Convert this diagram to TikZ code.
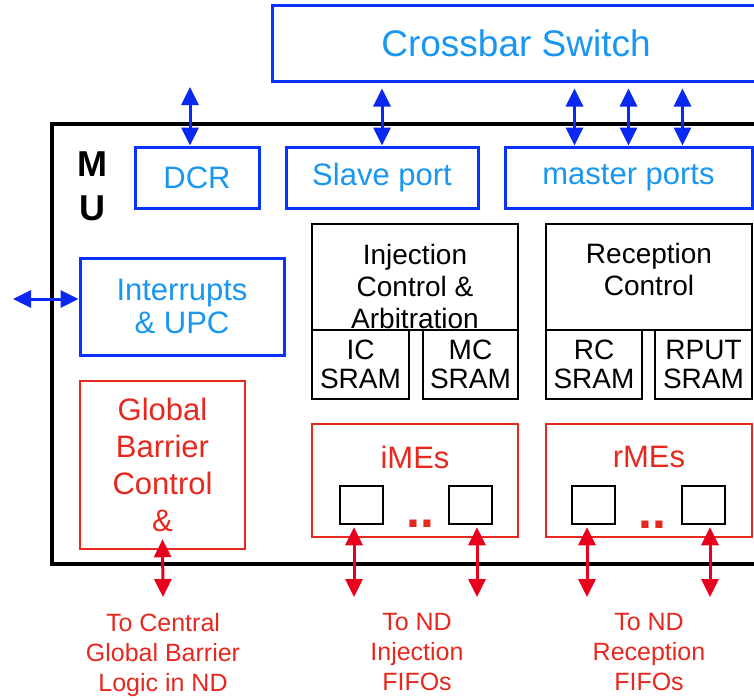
\documentclass[tikz,border=0pt]{standalone}
\usepackage{fontspec}
\setmainfont{Liberation Sans}
\usetikzlibrary{arrows.meta,calc}

\tikzset{
  bluebox/.style={draw=lineblue, line width=3pt, text=textblue, inner sep=0pt, align=center, font=\fontsize{31}{33}\selectfont},
  blackbox/.style={draw=black, line width=2.5pt, inner sep=0pt, align=center, font=\fontsize{28}{29}\selectfont},
  blacktext/.style={inner sep=0pt, align=center, font=\fontsize{28}{32}\selectfont},
  redbox/.style={draw=redline, line width=2.5pt, text=redline, inner sep=0pt, align=center, font=\fontsize{31}{37}\selectfont},
  redtext/.style={text=redline, inner sep=0pt, align=center, font=\fontsize{31}{37}\selectfont},
  mebox/.style={draw=black, line width=2.5pt, minimum width=43pt, minimum height=38pt, inner sep=0pt},
  redlabel/.style={text=redline, inner sep=0pt, align=center, font=\fontsize{25}{30}\selectfont},
  bluearrow/.style={{Triangle[width=17pt,length=18pt]}-{Triangle[width=17pt,length=18pt]}, draw=arrowblue, line width=3pt},
  redarrow/.style={{Triangle[width=17pt,length=18pt]}-{Triangle[width=17pt,length=18pt]}, draw=arrowred, line width=3pt},
}

\begin{document}
\begin{tikzpicture}[x=1pt,y=-1pt]
  % Define colors
  \definecolor{lineblue}{RGB}{10, 50, 255}
  \definecolor{arrowblue}{RGB}{10, 40, 240}
  \definecolor{textblue}{RGB}{25, 150, 240}
  \definecolor{redline}{RGB}{230, 40, 30}
  \definecolor{arrowred}{RGB}{232, 0, 28}

  \useasboundingbox (0,0) rectangle (754,699);
  \clip (0,0) rectangle (754,699);

  % Crossbar and MU frame
  \node[bluebox, minimum width=488pt, minimum height=76pt, font=\fontsize{37}{40}\selectfont] (xbar) at (516,43) {Crossbar Switch};
  \node[draw, line width=3.5pt, minimum width=708pt, minimum height=440pt, inner sep=0pt] (mu) at (406,344) {};
  \node[inner sep=0pt, align=center, font=\fontsize{36}{44}\selectfont\bfseries] (mulabel) at (92,186) {M\\U};

  % Ports
  \node[bluebox, minimum width=124pt, minimum height=61pt] (dcr) at (197,177.5) {DCR};
  \node[bluebox, minimum width=192pt, minimum height=61pt] (slave) at (382,177.5) {Slave port};
  \node[bluebox, minimum width=247pt, minimum height=61pt] (mst) at (628.5,177.5) {master ports};
  \node[bluebox, minimum width=204pt, minimum height=97pt] (intr) at (182,306.5) {Interrupts\\\& UPC};

  % Global barrier
  \node[redbox, minimum width=165pt, minimum height=168pt] (gbc) at (162.5,465) {Global\\Barrier\\Control\\\&};

  % Injection and reception control
  \node[blackbox, minimum width=206pt, minimum height=106pt] (injctl) at (415,277) {};
  \node[blacktext] (injtxt) at ($(injctl.center)+(0,9)$) {Injection\\Control \&\\Arbitration};
  \node[blackbox, minimum width=97pt, minimum height=69pt] (icsram) at (360.5,364.5) {IC\\SRAM};
  \node[blackbox, minimum width=95pt, minimum height=69pt] (mcsram) at (470.5,364.5) {MC\\SRAM};
  \node[blackbox, minimum width=206pt, minimum height=106pt] (recctl) at (649,277) {};
  \node[blacktext] (rectxt) at ($(recctl.center)+(0,-8)$) {Reception\\Control};
  \node[blackbox, minimum width=96pt, minimum height=69pt] (rcsram) at (594,364.5) {RC\\SRAM};
  \node[blackbox, minimum width=97pt, minimum height=69pt] (rputsram) at (703.5,364.5) {RPUT\\SRAM};

  % Message engines
  \node[redbox, minimum width=206pt, minimum height=113pt] (imes) at (415,480.5) {};
  \node[redtext] (imestxt) at (415,457) {iMEs};
  \node[mebox] (ime1) at (361.5,505) {};
  \node[mebox] (ime2) at (470.5,505) {};
  \node[text=redline, anchor=base, inner sep=0pt, font=\fontsize{50}{50}\selectfont\bfseries] (imedots) at (420,527) {..};
  \node[redbox, minimum width=206pt, minimum height=113pt] (rmes) at (649,480.5) {};
  \node[redtext] (rmestxt) at (649,457) {rMEs};
  \node[mebox] (rme1) at (593.5,505) {};
  \node[mebox] (rme2) at (703.5,505) {};
  \node[text=redline, anchor=base, inner sep=0pt, font=\fontsize{50}{50}\selectfont\bfseries] (rmedots) at (652,528) {..};

  % Blue arrows
  \coordinate (dcrtop) at (190,87);
  \draw[bluearrow] (dcrtop) -- (dcrtop |- dcr.north);
  \draw[bluearrow] ($(xbar.south -| slave.north)+(0,6)$) -- (slave.north);
  \foreach \dx in {-54,0,54}
    \draw[bluearrow] ($(xbar.south -| mst.north)+(\dx,6)$) -- ($(mst.north)+(\dx,0)$);
  \coordinate (intend) at (13,299);
  \draw[bluearrow] (intend) -- (intend -| intr.west);

  % Red arrows
  \coordinate (gbcend) at (163,597);
  \coordinate (ime1end) at (354,597);
  \coordinate (ime2end) at (477,597);
  \coordinate (rme1end) at (587,597);
  \coordinate (rme2end) at (710,597);
  \draw[redarrow] ($(gbc.south)+(0,-11)$) -- (gbcend);
  \draw[redarrow] ($(ime1end |- ime1.south)+(0,2)$) -- (ime1end);
  \draw[redarrow] ($(ime2end |- ime2.south)+(0,2)$) -- (ime2end);
  \draw[redarrow] ($(rme1end |- rme1.south)+(0,2)$) -- (rme1end);
  \draw[redarrow] ($(rme2end |- rme2.south)+(0,2)$) -- (rme2end);

  % Labels below
  \node[redlabel] (gbclabel) at (163,655) {To Central\\Global Barrier\\Logic in ND};
  \node[redlabel] (injlabel) at (417,652) {To ND\\Injection\\FIFOs};
  \node[redlabel] (reclabel) at (649,652) {To ND\\Reception\\FIFOs};
\end{tikzpicture}
\end{document}
